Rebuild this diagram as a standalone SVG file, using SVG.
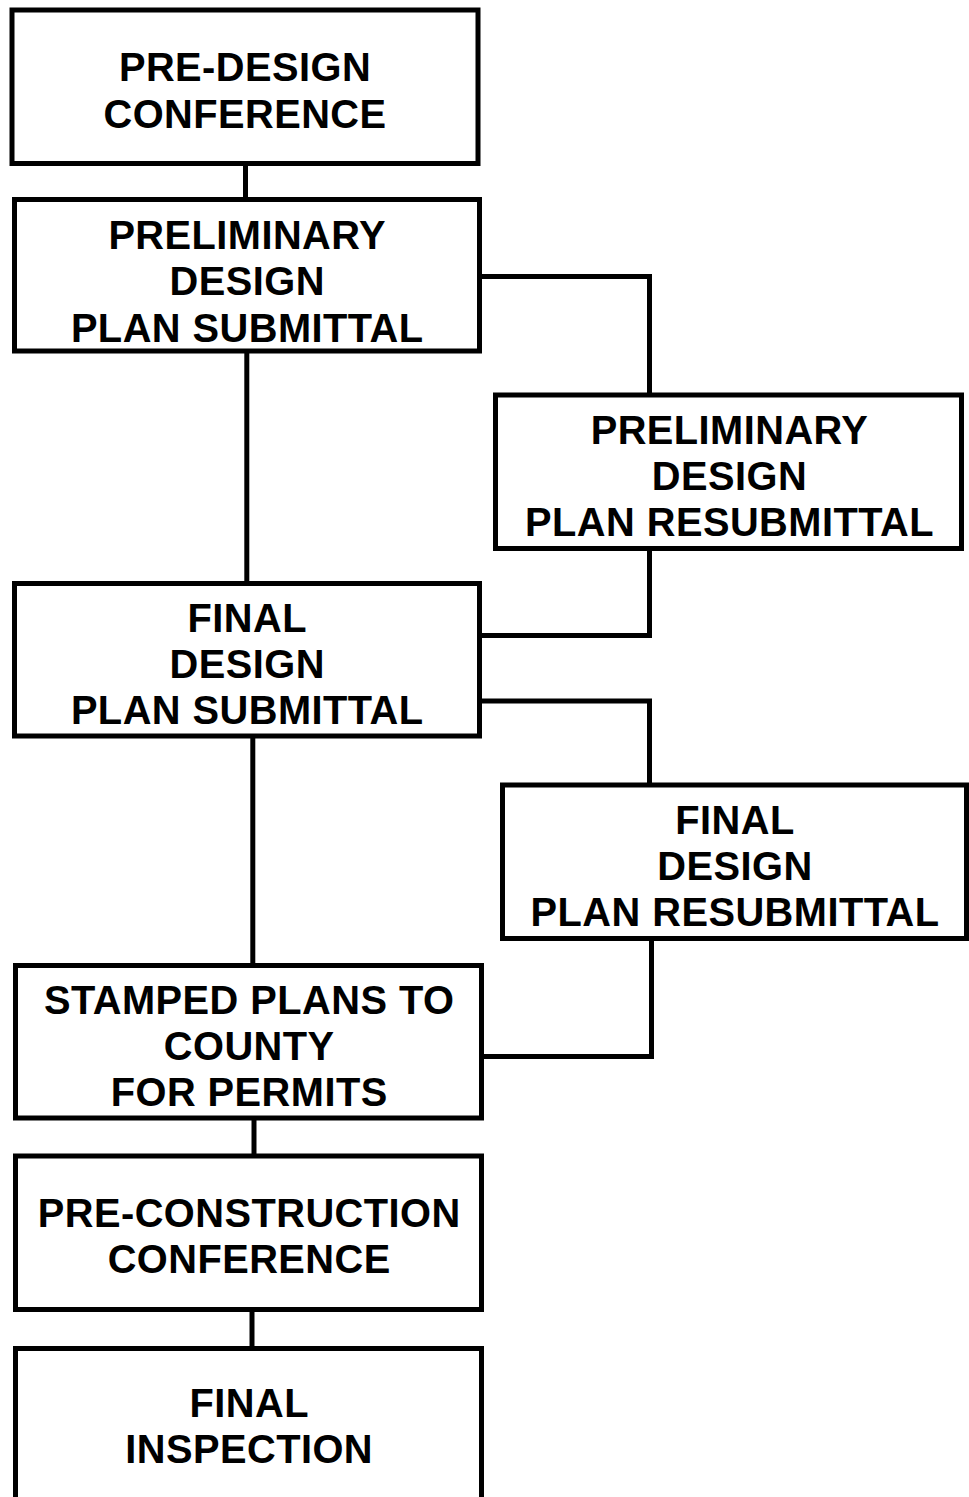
<svg xmlns="http://www.w3.org/2000/svg" width="969" height="1497" viewBox="0 0 969 1497">
<style>
.box{fill:#fff;stroke:#000;stroke-width:5}
.con{fill:none;stroke:#000;stroke-width:5;stroke-linejoin:miter}
.t{font-family:"Liberation Sans",Arial,sans-serif;font-weight:bold;font-size:39.8px;letter-spacing:0.45px;text-anchor:middle;fill:#000}
</style>
<rect width="969" height="1497" fill="#fff"/>
<g id="connectors">
<path class="con" d="M245.5 163.5V199.5"/>
<path class="con" d="M246.8 351V583.5"/>
<path class="con" d="M479.5 276.5H649.5V395"/>
<path class="con" d="M649.5 548.5V635.5H479.5"/>
<path class="con" d="M479.5 701H649.5V785"/>
<path class="con" d="M651.5 938.5V1056.5H481.5"/>
<path class="con" d="M252.8 736V965.5"/>
<path class="con" d="M254 1118V1156"/>
<path class="con" d="M252 1309.5V1348.5"/>
</g>
<g id="n1">
<rect class="box" x="12" y="10" width="466" height="153.5"/>
<text class="t" x="245" y="80.5">PRE-DESIGN</text>
<text class="t" x="245" y="127.5">CONFERENCE</text>
</g>
<g id="n2">
<rect class="box" x="14.5" y="199.5" width="465" height="151.5"/>
<text class="t" x="247.2" y="249">PRELIMINARY</text>
<text class="t" x="247.2" y="295">DESIGN</text>
<text class="t" x="247.2" y="341.5">PLAN SUBMITTAL</text>
</g>
<g id="n3">
<rect class="box" x="495.5" y="395" width="466" height="153.5"/>
<text class="t" x="729.5" y="444">PRELIMINARY</text>
<text class="t" x="729.5" y="490">DESIGN</text>
<text class="t" x="729.5" y="536">PLAN RESUBMITTAL</text>
</g>
<g id="n4">
<rect class="box" x="14.5" y="583.5" width="465" height="152.5"/>
<text class="t" x="247.2" y="632">FINAL</text>
<text class="t" x="247.2" y="678">DESIGN</text>
<text class="t" x="247.2" y="724">PLAN SUBMITTAL</text>
</g>
<g id="n5">
<rect class="box" x="502.5" y="785" width="464" height="153.5"/>
<text class="t" x="735" y="834">FINAL</text>
<text class="t" x="735" y="880">DESIGN</text>
<text class="t" x="735" y="926">PLAN RESUBMITTAL</text>
</g>
<g id="n6">
<rect class="box" x="15.5" y="965.5" width="466" height="152.5"/>
<text class="t" x="249.2" y="1014">STAMPED PLANS TO</text>
<text class="t" x="249.2" y="1060">COUNTY</text>
<text class="t" x="249.2" y="1106">FOR PERMITS</text>
</g>
<g id="n7">
<rect class="box" x="15.5" y="1156" width="466" height="153.5"/>
<text class="t" x="249.2" y="1227">PRE-CONSTRUCTION</text>
<text class="t" x="249.2" y="1273">CONFERENCE</text>
</g>
<g id="n8">
<rect class="box" x="15.5" y="1348.5" width="466" height="200"/>
<text class="t" x="249.2" y="1417">FINAL</text>
<text class="t" x="249.2" y="1463">INSPECTION</text>
</g>
</svg>
